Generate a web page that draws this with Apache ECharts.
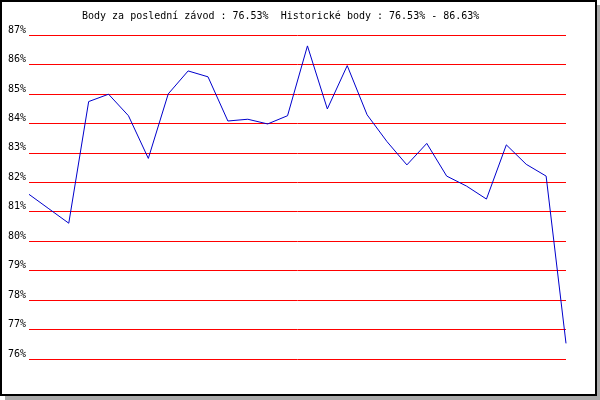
<!DOCTYPE html>
<html>
<head>
<meta charset="utf-8">
<script src="https://cdn.jsdelivr.net/npm/echarts@6/dist/echarts.min.js"></script>
<style>html,body{margin:0;padding:0;background:#fff;}#c{width:600px;height:400px;}</style>
</head>
<body>
<div id="c"></div>
<script>
var titleText = 'Body za poslední závod : 76.53%  Historické body : 76.53% - 86.63%';
var races = [];
for (var i = 1; i <= 28; i++) races.push(String(i));
var points = [81.59, 81.10, 80.61, 84.74, 84.99, 84.26, 82.81, 85.00, 85.78, 85.58,
              84.08, 84.14, 83.98, 84.26, 86.63, 84.49, 85.96, 84.29, 83.38, 82.59,
              83.32, 82.21, 81.87, 81.43, 83.27, 82.61, 82.21, 76.53];
var yMin = 76, yMax = 87, yStep = 1;

var chart = echarts.init(document.getElementById('c'), null, {renderer: 'canvas'});
chart.setOption({
  animation: false,
  backgroundColor: '#fff',
  title: {
    text: titleText,
    left: 77, top: 6,
    textStyle: {fontFamily: 'DejaVu Sans Mono', fontSize: 10, fontWeight: 'normal', color: '#000'}
  },
  grid: {left: 29, right: 34, top: 35, bottom: 41, containLabel: false},
  xAxis: {
    type: 'category', data: races, boundaryGap: false,
    axisLine: {show: false}, axisTick: {show: false}, axisLabel: {show: false}, splitLine: {show: false}
  },
  yAxis: {
    type: 'value', min: yMin, max: yMax, interval: yStep,
    axisLine: {show: false}, axisTick: {show: false},
    axisLabel: {
      formatter: '{value}%', margin: 3, verticalAlign: 'bottom', lineHeight: 10,
      fontFamily: 'DejaVu Sans Mono', fontSize: 10, color: '#000'
    },
    splitLine: {show: true, lineStyle: {color: '#ff0000', width: 1, type: 'solid'}}
  },
  graphic: [
    {type: 'rect', shape: {x: 5, y: 396, width: 595, height: 4}, style: {fill: '#aaaaaa'}, silent: true},
    {type: 'rect', shape: {x: 597, y: 5, width: 3, height: 395}, style: {fill: '#aaaaaa'}, silent: true},
    {type: 'rect', shape: {x: 1, y: 1, width: 595, height: 394}, style: {fill: 'none', stroke: '#000', lineWidth: 2}, silent: true}
  ],
  series: [{
    type: 'line', data: points, symbol: 'none',
    lineStyle: {color: '#0000cc', width: 1}
  }]
});
</script>
</body>
</html>
